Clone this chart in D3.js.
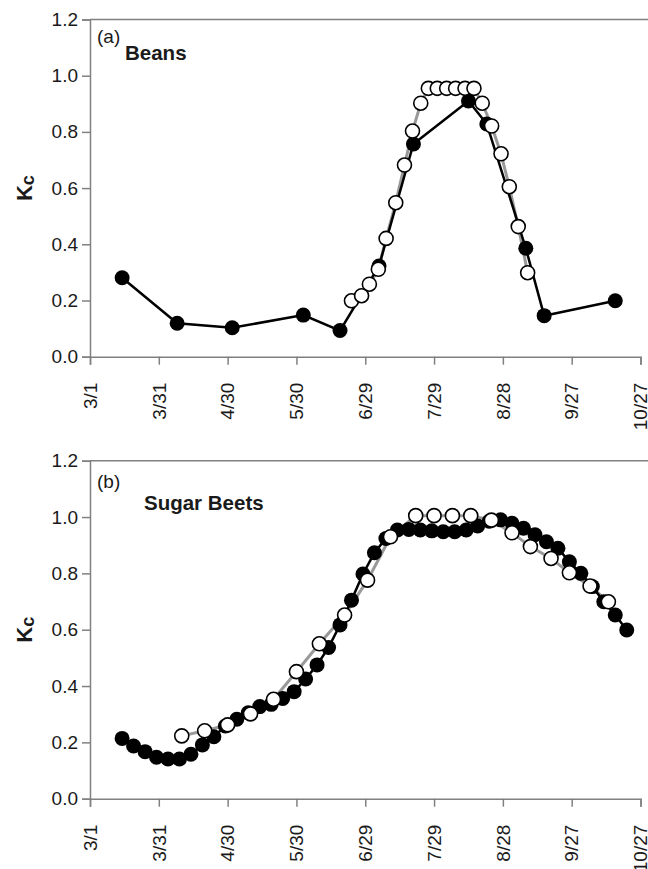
<!DOCTYPE html>
<html>
<head>
<meta charset="utf-8">
<script src="https://cdn.jsdelivr.net/npm/d3@7"></script>
<style>
  body { margin: 0; background: #fff; }
  svg { display: block; font-family: "Liberation Sans", Arial, sans-serif; }
</style>
</head>
<body>
<svg id="chart" width="648" height="869"></svg>
<script>
// days are counted from 3/1
var tickDays = [0, 30, 60, 90, 120, 150, 180, 210, 240];
var tickLabels = ['3/1', '3/31', '4/30', '5/30', '6/29', '7/29', '8/28', '9/27', '10/27'];
var kcTicks = [0, 0.2, 0.4, 0.6, 0.8, 1.0, 1.2];

// (a) beans
var beansFilledDays = [14, 38, 62, 93, 109, 126, 141, 165, 173, 190, 198, 229];
var beansFilledKc = [0.281, 0.119, 0.103, 0.148, 0.093, 0.323, 0.757, 0.910, 0.828, 0.386, 0.146, 0.199];
var beansOpenDays = [114, 118.4, 121.8, 125.7, 129.1, 133.3, 137.1, 140.6, 144.2, 147.5, 151.4, 155.5, 159.4, 163.5, 167.4, 171, 175.1, 179.2, 182.8, 186.7, 190.8];
var beansOpenKc = [0.199, 0.217, 0.258, 0.311, 0.421, 0.548, 0.682, 0.803, 0.902, 0.955, 0.955, 0.955, 0.955, 0.955, 0.955, 0.902, 0.821, 0.722, 0.605, 0.463, 0.299];

// (b) sugar beets
var beetsFilledDays = [14, 19, 24, 29, 34, 39, 44, 49, 54, 59, 64, 69, 74, 79, 84, 89, 94, 99, 104, 109, 114, 119, 124,
  129, 134, 139, 144, 149, 154, 159, 164, 169, 174, 179, 184, 189, 194, 199, 204, 209, 214, 219, 224, 229, 234];
var beetsFilledKc = [0.214, 0.187, 0.167, 0.147, 0.141, 0.141, 0.158, 0.191, 0.220, 0.258, 0.282, 0.305, 0.327, 0.335, 0.356,
  0.380, 0.425, 0.475, 0.537, 0.617, 0.705, 0.798, 0.873, 0.924, 0.954, 0.956, 0.954, 0.951, 0.948, 0.948, 0.954, 0.968,
  0.985, 0.99, 0.978, 0.960, 0.937, 0.912, 0.889, 0.841, 0.800, 0.753, 0.699, 0.652, 0.599];
var beetsOpenDays = [40, 50, 60, 70, 80, 90, 100, 111, 121, 131, 142, 150, 158, 166, 175, 184, 192, 201, 209, 218, 226];
var beetsOpenKc = [0.223, 0.241, 0.262, 0.301, 0.353, 0.451, 0.550, 0.652, 0.776, 0.930, 1.005, 1.005, 1.005, 1.005,
  0.989, 0.944, 0.895, 0.853, 0.802, 0.755, 0.699];

var svg = d3.select('#chart');
var axisColor = '#808080';

function zip(days, vals) {
  return days.map(function (d, i) { return { day: d, kc: vals[i] }; });
}

function drawPanel(cfg) {
  var x = d3.scaleLinear().domain([0, 240]).range([90, 640.5]);
  var y = d3.scaleLinear().domain([0, 1.2]).range([cfg.bottom, cfg.top]);
  var g = svg.append('g');

  // top frame line
  g.append('line')
    .attr('x1', x(0)).attr('x2', 652)
    .attr('y1', y(1.2)).attr('y2', y(1.2))
    .attr('stroke', axisColor).attr('stroke-width', 1.5);

  var yAxis = g.append('g')
    .attr('transform', 'translate(' + x(0) + ',0)')
    .call(d3.axisLeft(y).tickValues(kcTicks).tickFormat(d3.format('.1f')).tickSize(8).tickPadding(4));

  var xAxis = g.append('g')
    .attr('transform', 'translate(0,' + y(0) + ')')
    .call(d3.axisBottom(x).tickValues(tickDays).tickFormat(function (d, i) { return tickLabels[i]; }).tickSize(8));

  [yAxis, xAxis].forEach(function (a) {
    a.select('.domain').attr('stroke', axisColor).attr('stroke-width', 1.5);
    a.selectAll('.tick line').attr('stroke', axisColor).attr('stroke-width', 1.5);
    a.selectAll('.tick text').attr('fill', '#1a1a1a').style('font-size', '19px');
  });

  xAxis.selectAll('.tick text')
    .attr('text-anchor', 'end')
    .attr('transform', 'rotate(-90)')
    .attr('x', -26).attr('y', 0).attr('dy', '0.33em');

  // Kc label
  var kc = g.append('text')
    .attr('transform', 'translate(32,' + ((cfg.top + cfg.bottom) / 2) + ') rotate(-90)')
    .attr('text-anchor', 'middle')
    .attr('font-weight', 'bold')
    .attr('fill', '#1a1a1a');
  kc.append('tspan').style('font-size', '22px').text('K');
  kc.append('tspan').style('font-size', '18px').attr('dy', 2).text('c');

  // panel letter and crop name
  g.append('text').attr('x', 97).attr('y', cfg.letterY)
    .style('font-size', '19px').attr('fill', '#1a1a1a').text(cfg.letter);
  g.append('text').attr('x', cfg.nameX).attr('y', cfg.nameY)
    .style('font-size', '20.5px').attr('font-weight', 'bold').attr('fill', '#1a1a1a').text(cfg.name);

  var line = d3.line().x(function (d) { return x(d.day); }).y(function (d) { return y(d.kc); });
  var openData = zip(cfg.openDays, cfg.openKc);
  var filledData = zip(cfg.filledDays, cfg.filledKc);

  g.append('path').datum(openData).attr('d', line)
    .attr('fill', 'none').attr('stroke', '#999').attr('stroke-width', 3);
  g.append('path').datum(filledData).attr('d', line)
    .attr('fill', 'none').attr('stroke', '#000').attr('stroke-width', 2.5);

  g.append('g').selectAll('circle').data(filledData).enter().append('circle')
    .attr('cx', function (d) { return x(d.day); })
    .attr('cy', function (d) { return y(d.kc); })
    .attr('r', 7.5).attr('fill', '#000');

  g.append('g').selectAll('circle').data(openData).enter().append('circle')
    .attr('cx', function (d) { return x(d.day); })
    .attr('cy', function (d) { return y(d.kc); })
    .attr('r', 7).attr('fill', '#fff').attr('stroke', '#000').attr('stroke-width', 1.6);
}

drawPanel({
  top: 19.5, bottom: 356.7,
  letter: '(a)', letterY: 43, name: 'Beans', nameX: 125, nameY: 60,
  filledDays: beansFilledDays, filledKc: beansFilledKc,
  openDays: beansOpenDays, openKc: beansOpenKc
});

drawPanel({
  top: 460.7, bottom: 798.7,
  letter: '(b)', letterY: 488, name: 'Sugar Beets', nameX: 144, nameY: 509.5,
  filledDays: beetsFilledDays, filledKc: beetsFilledKc,
  openDays: beetsOpenDays, openKc: beetsOpenKc
});
</script>
</body>
</html>
